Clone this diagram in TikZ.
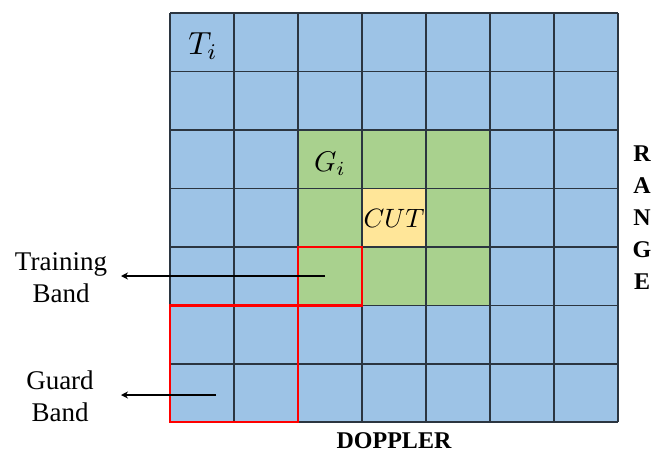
\documentclass[tikz,border=0pt]{standalone}
\usepackage{fontspec}
\setmainfont{Liberation Serif}
\usetikzlibrary{arrows.meta}
\definecolor{cellblue}{HTML}{9DC3E6}
\definecolor{cellgreen}{HTML}{A9D18E}
\definecolor{cellyellow}{HTML}{FFE699}
\definecolor{gridline}{HTML}{2B3540}
\tikzset{
  gridlines/.style={draw=gridline, line width=1.4pt},
  band/.style={draw=red, line width=2.6pt},
  lbl/.style={font=\fontsize{27}{32}\selectfont, align=center, inner sep=0pt},
  axis/.style={font=\bfseries\fontsize{24}{32}\selectfont, inner sep=0pt},
  mathlbl/.style={inner sep=0pt},
  pointer/.style={line width=1.5pt, -{Stealth[length=7pt,width=7pt]}},
}
\begin{document}
\begin{tikzpicture}[x=1pt,y=-1pt]
\useasboundingbox (0,0) rectangle (651,455);
% cells
\fill[cellblue] (170,13) rectangle (618,422);
\fill[cellgreen] (298,130) rectangle (490,305);
\fill[cellyellow] (362,188) rectangle (426,247);
% grid
\foreach \x in {170,234,298,362,426,490,554,618}
  \draw[gridlines] (\x,13) -- (\x,422);
\foreach \y in {13,71.5,130,188.5,247,305.5,364,422}
  \draw[gridlines] (170,\y) -- (618,\y);
% bands
\draw[band] (298,247) rectangle (362,305.5);
\draw[band] (170,305.5) rectangle (298,422);
% labels
\node[mathlbl, scale=3.2] (ti) at (203,46) {$T_i$};
\node[mathlbl, scale=2.85] (gi) at (330,164) {$G_i$};
\node[mathlbl, scale=2.65] (cut) at (394,218) {$CUT$};
\node[lbl] (train) at (61,278) {Training\\Band};
\node[lbl] (guard) at (60,396) {Guard\\Band};
\node[axis] (doppler) at (394,441) {DOPPLER};
\node[axis, align=center] (range) at (642,218) {R\\A\\N\\G\\E};
% arrows
\coordinate (ts) at (325,276);
\coordinate (te) at (121,276);
\coordinate (gs) at (216,395);
\coordinate (ge) at (121,395);
\draw[pointer] (ts) -- (te);
\draw[pointer] (gs) -- (ge);
\end{tikzpicture}
\end{document}
